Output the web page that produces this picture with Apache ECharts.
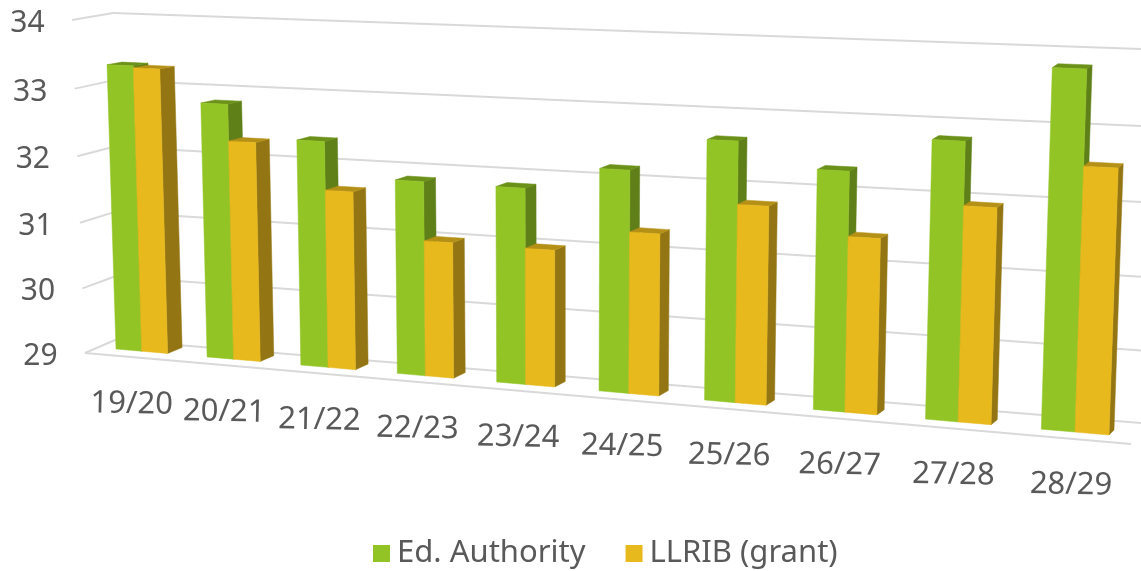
<!DOCTYPE html>
<html><head><meta charset="utf-8">
<style>html,body{margin:0;padding:0;background:#fff}#c{width:1141px;height:571px}</style>
<script src="https://cdn.jsdelivr.net/npm/echarts@6/dist/echarts.min.js"></script>
</head><body><div id="c"></div>
<script>
const categories = ['19/20','20/21','21/22','22/23','23/24','24/25','25/26','26/27','27/28','28/29'];
const edAuthority = [33.33,32.83,32.36,31.86,31.85,32.19,32.67,32.34,32.82,33.83];
const llribGrant = [33.30,32.29,31.65,31.00,30.99,31.32,31.80,31.45,31.96,32.57];
const valueTicks = [29,30,31,32,33,34];

const FONT = '"Noto Sans"';
const TEXT = '#595959', GRID = '#D9D9D9';
const G = {l:100, r:100, t:50, b:150, W:1141, H:571};
const gW = G.W-G.l-G.r, gB = G.H-G.b, gH = gB-G.t;

// perspective along both plane directions
const VPERSP = 1.038;
function quad(p0,p1,p2,p3,r){
  return (s,tt)=>{
    const u=s/(s+r*(1-s));
    const t=tt/(tt+VPERSP*(1-tt));
    const bx=p0[0]+(p1[0]-p0[0])*u, by=p0[1]+(p1[1]-p0[1])*u;
    const tx=p3[0]+(p2[0]-p3[0])*u, ty=p3[1]+(p2[1]-p3[1])*u;
    return [bx+(tx-bx)*t, by+(ty-by)*t];
  };
}
const U0=0.0215,U1=0.9785, BAR=0.285, PERSP=1.155;
const frontQ = quad([116,349],[1109,435],[1122,57],[105.6,19],PERSP);
const backQ  = quad([131,343],[1114,430],[1127,53],[120.6,17],PERSP);
const wallQ  = quad([115,340],[1141,423],[1141,49],[113,13],1);
const sideQ  = quad([85,353],[115,340],[113,13],[72,20],1);
const floorFront = [[85,353],[1131,444]];

const norm = p => [(p[0]-G.l)/gW,(gB-p[1])/gH];
const uMap = n => (n-U0)/(U1-U0);
const front = (nx,ny)=>frontQ(uMap(nx),ny);
const back  = (nx,ny)=>backQ(uMap(nx),ny);
const poly = (pts,fill)=>({type:'polygon',shape:{points:pts},style:{fill,stroke:fill,lineWidth:0.5}});

function barSeries(name,values,fromOff,toOff,colors){
  return {name,type:'custom',coordinateSystem:'cartesian2d',clip:false,silent:true,
    itemStyle:{color:colors.front},
    data:values.map((v,i)=>[i,v]),
    encode:{x:0,y:1},
    renderItem(p,api){
      const top=norm(api.coord([api.value(0),api.value(1)]));
      const bot=norm(api.coord([api.value(0),29]));
      const bw=api.size([1,0])[0]/gW;
      const x0=top[0]+fromOff*bw,x1=top[0]+toOff*bw;
      const fl0=front(x0,bot[1]),fl1=front(x1,bot[1]),ft0=front(x0,top[1]),ft1=front(x1,top[1]);
      const bt0=back(x0,top[1]),bt1=back(x1,top[1]),bl1=back(x1,bot[1]);
      return {type:'group',children:[
        poly([fl1,ft1,bt1,bl1],colors.side),
        poly([ft0,ft1,bt1,bt0],colors.top),
        poly([fl0,fl1,ft1,ft0],colors.front)
      ]};
    }};
}
const line=(a,b)=>({type:'line',shape:{x1:a[0],y1:a[1],x2:b[0],y2:b[1]},style:{stroke:GRID,lineWidth:2}});

const chart=echarts.init(document.getElementById('c'),null,{renderer:'canvas'});
chart.setOption({
  animation:false,
  backgroundColor:'#fff',
  grid:{left:G.l,right:G.r,top:G.t,bottom:G.b},
  xAxis:{type:'category',data:categories,show:false},
  yAxis:{type:'value',min:29,max:34,interval:1,show:false},
  legend:{show:true,left:368,top:533,icon:'rect',itemWidth:17,itemHeight:17,itemGap:40,
    data:['Ed. Authority','LLRIB (grant)'],selectedMode:false,
    textStyle:{color:TEXT,fontFamily:FONT,fontSize:31,padding:[2,0,0,2]}},
  series:[
    {name:'grid',type:'custom',coordinateSystem:'cartesian2d',clip:false,silent:true,z:1,
      data:valueTicks.map(v=>[0,v]),encode:{x:0,y:1},
      renderItem(p,api){
        const n=norm(api.coord([0,api.value(1)]));
        const a=sideQ(0,n[1]),b=sideQ(1,n[1]),c=wallQ(0,n[1]),d=wallQ(1,n[1]);
        const kids=[line(a,b),line(c,d),
          {type:'text',style:{text:String(api.value(1)),x:a[0]-44.5,y:a[1]+3.5,align:'center',verticalAlign:'middle',
            fill:TEXT,font:'30px '+FONT}}];
        if(api.value(1)===29) kids.push(line(floorFront[0],floorFront[1]));
        return {type:'group',children:kids};
      }},
    {name:'cat',type:'custom',coordinateSystem:'cartesian2d',clip:false,silent:true,z:1,
      data:categories.map((c,i)=>[i,29]),encode:{x:0,y:1},
      renderItem(p,api){
        const i=api.value(0);
        const n=norm(api.coord([i,29]));
        const q=front(n[0],n[1]);
        return {type:'text',x:q[0]-10+0.67*i,y:q[1]+53,rotation:-0.02,
          style:{text:categories[i],x:0,y:0,align:'center',verticalAlign:'middle',fill:TEXT,font:'31px '+FONT}};
      }},
    Object.assign(barSeries('Ed. Authority',edAuthority,-BAR,0,{front:'#92C425',side:'#5F7F18',top:'#6B9119'}),{z:2}),
    Object.assign(barSeries('LLRIB (grant)',llribGrant,0,BAR,{front:'#E7B91D',side:'#937613',top:'#B59016'}),{z:3})
  ]
});
</script></body></html>
